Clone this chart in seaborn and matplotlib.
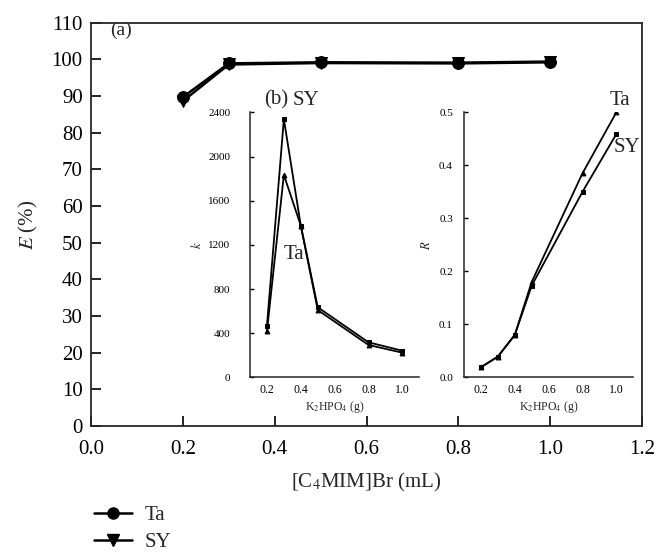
import matplotlib
matplotlib.use("Agg")
import matplotlib.pyplot as plt
import numpy as np
import pandas as pd
import seaborn as sns

# main panel (a): extraction efficiency vs [C4MIM]Br volume
il_ml = [0.2, 0.3, 0.5, 0.8, 1.0]
e_ta = [89.7, 98.9, 99.2, 99.1, 99.4]
e_sy = [88.6, 98.6, 99.0, 98.9, 99.2]

# inset (b): k and R vs K2HPO4 mass
salt_g = [0.2, 0.3, 0.4, 0.5, 0.8, 1.0]
k_ta = [417, 1835, 1375, 610, 293, 223]
k_sy = [465, 2340, 1375, 635, 317, 241]
r_ta = [0.019, 0.039, 0.080, 0.180, 0.385, 0.500]
r_sy = [0.019, 0.039, 0.080, 0.173, 0.350, 0.459]

main_ticks_x = [0.0, 0.2, 0.4, 0.6, 0.8, 1.0, 1.2]
main_ticks_y = list(range(0, 111, 10))
k_ticks = [0, 400, 800, 1200, 1600, 2000, 2400]
r_ticks = [0.0, 0.1, 0.2, 0.3, 0.4, 0.5]
inset_ticks_x = [0.2, 0.4, 0.6, 0.8, 1.0]

sns.set_theme(style="ticks")
plt.rcParams["font.family"] = ["Liberation Serif", "DejaVu Serif"]
plt.rcParams["mathtext.fontset"] = "stix"
plt.rcParams["axes.linewidth"] = 1.3

W, H = 665, 559
fig = plt.figure(figsize=(W / 100, H / 100), dpi=100)


def box(x0, y0, x1, y1):
    # pixel box (top-left origin) -> figure fraction rect
    return [x0 / W, 1 - y1 / H, (x1 - x0) / W, (y1 - y0) / H]


ax = fig.add_axes(box(91, 22.7, 642, 426))
main_df = pd.DataFrame({"x": il_ml * 2, "E": e_ta + e_sy,
                        "s": ["Ta"] * len(il_ml) + ["SY"] * len(il_ml)})
sns.lineplot(data=main_df, x="x", y="E", style="s", markers={"Ta": "o", "SY": "v"},
             dashes=False, color="black", linewidth=1.8, markersize=8.5,
             markeredgecolor="black", ax=ax, legend=False)
ax.set_xlim(0, 1.2)
ax.set_ylim(0, 110)
ax.set_xticks(main_ticks_x)
ax.set_xticklabels([f"{t:.1f}" for t in main_ticks_x])
ax.set_yticks(main_ticks_y)
ax.tick_params(direction="in", length=7, width=1.2, labelsize=15, colors="black")
ax.tick_params(axis="x", pad=10)
ax.tick_params(axis="y", pad=6)
ax.set_xlabel("[C$_4$MIM]Br (mL)", fontsize=15, labelpad=9)
ax.set_ylabel("$E$ (%)", fontsize=15, labelpad=8)
ax.text(0.055, 0.981, "(a)", transform=ax.transAxes, fontsize=14, ha="center", va="center")

# inset k
axk = fig.add_axes(box(250, 112.5, 419.3, 377.3))
k_df = pd.DataFrame({"x": salt_g * 2, "k": k_ta + k_sy,
                     "s": ["Ta"] * len(salt_g) + ["SY"] * len(salt_g)})
sns.lineplot(data=k_df, x="x", y="k", style="s", markers={"Ta": "^", "SY": "s"},
             dashes=False, color="black", linewidth=1.3, markersize=3.5,
             markeredgecolor="black", ax=axk, legend=False)
axk.set_xlim(0.1, 1.1)
axk.set_ylim(0, 2400)
axk.set_xticks(inset_ticks_x)
axk.set_xticklabels([f"{t:.1f}" for t in inset_ticks_x])
axk.set_yticks(k_ticks)
axk.set_xlabel("K$_2$HPO$_4$ (g)", fontsize=8.5, labelpad=2)
axk.set_ylabel("$k$", fontsize=9, labelpad=3)
axk.text(0.3, 1110, "Ta", fontsize=15, ha="left", va="center")

# inset R
axr = fig.add_axes(box(464, 112.3, 633.3, 377.3))
r_df = pd.DataFrame({"x": salt_g * 2, "R": r_ta + r_sy,
                     "s": ["Ta"] * len(salt_g) + ["SY"] * len(salt_g)})
sns.lineplot(data=r_df, x="x", y="R", style="s", markers={"Ta": "^", "SY": "s"},
             dashes=False, color="black", linewidth=1.3, markersize=3.5,
             markeredgecolor="black", ax=axr, legend=False)
axr.set_xlim(0.1, 1.1)
axr.set_ylim(0, 0.5)
axr.set_xticks(inset_ticks_x)
axr.set_xticklabels([f"{t:.1f}" for t in inset_ticks_x])
axr.set_yticks(r_ticks)
axr.set_yticklabels([f"{t:.1f}" for t in r_ticks])
axr.set_xlabel("K$_2$HPO$_4$ (g)", fontsize=8.5, labelpad=2)
axr.set_ylabel("$R$", fontsize=9, labelpad=4)

for a, ypad in ((axk, 14), (axr, 8)):
    a.patch.set_alpha(0)
    sns.despine(ax=a)
    for sp in a.spines.values():
        sp.set_linewidth(1.1)
    a.tick_params(axis="y", direction="in", length=3, width=1, labelsize=8, pad=ypad, colors="black")
    a.tick_params(axis="x", length=0, labelsize=8.5, pad=5, colors="black")

fig.text(276 / W, 1 - 100 / H, "(b)", fontsize=15, ha="center", va="center")
fig.text(306 / W, 1 - 100 / H, "SY", fontsize=15, ha="center", va="center")
fig.text(620 / W, 1 - 100 / H, "Ta", fontsize=15, ha="center", va="center")
fig.text(627 / W, 1 - 147 / H, "SY", fontsize=15, ha="center", va="center")

# legend below the plot
handles = [plt.Line2D([], [], color="black", marker="o", markersize=8, linewidth=1.8),
           plt.Line2D([], [], color="black", marker="v", markersize=8, linewidth=1.8)]
fig.legend(handles, ["Ta", "SY"], loc="upper left", bbox_to_anchor=(86 / W, 1 - 497 / H),
           frameon=False, fontsize=15, handlelength=1.8, handletextpad=0.6,
           labelspacing=0.35, borderaxespad=0)

fig.savefig("out.png", dpi=100)
